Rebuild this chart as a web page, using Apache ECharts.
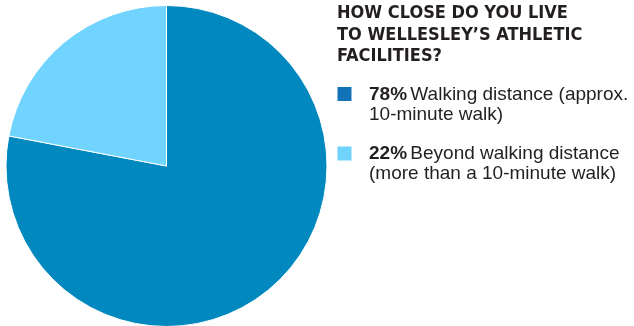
<!DOCTYPE html>
<html>
<head>
<meta charset="utf-8">
<script src="https://cdn.jsdelivr.net/npm/echarts@6/dist/echarts.min.js"></script>
<style>
html,body{margin:0;padding:0;background:#fff;}
#chart{width:634px;height:326px;}
</style>
</head>
<body>
<div id="chart"></div>
<script>
var titleLines = ['HOW CLOSE DO YOU LIVE', 'TO WELLESLEY\u2019S ATHLETIC', 'FACILITIES?'];
var categories = ['Walking distance (approx.\n10-minute walk)', 'Beyond walking distance\n(more than a 10-minute walk)'];
var values = [78, 22];
var pieColors = ['#0088bf', '#70d4ff'];
var legendColors = ['#1272b8', '#6fd3fc'];

var chart = echarts.init(document.getElementById('chart'));
var textColor = '#231f20';

var graphics = [{
  type: 'text',
  left: 337, top: 3,
  style: {
    text: titleLines.join('\n'),
    font: 'bold 18px "DejaVu Sans Condensed", "Liberation Sans", Arial, sans-serif',
    fill: textColor,
    lineHeight: 21.3
  }
}];
var legendTops = [84.5, 143.5];
var squareTops = [87, 146.5];
categories.forEach(function (c, i) {
  graphics.push({
    type: 'rect',
    shape: { x: 337.5, y: squareTops[i], width: 14, height: 14 },
    style: { fill: legendColors[i] }
  });
  var lines = c.split('\n');
  var txt = '{b|' + values[i] + '%} {n|' + lines[0] + '}';
  for (var k = 1; k < lines.length; k++) txt += '\n{n|' + lines[k] + '}';
  graphics.push({
    type: 'text',
    left: 369, top: legendTops[i],
    style: {
      text: txt,
      fill: textColor,
      lineHeight: 20,
      rich: {
        b: { fontFamily: '"Liberation Sans", Arial, sans-serif', fontWeight: 'bold', fontSize: 19, lineHeight: 20, fill: textColor, color: textColor },
        n: { fontFamily: '"Liberation Sans", Arial, sans-serif', fontWeight: 'normal', fontSize: 19, lineHeight: 20, fill: textColor, color: textColor }
      }
    }
  });
});

chart.setOption({
  animation: false,
  backgroundColor: '#ffffff',
  series: [{
    type: 'pie',
    center: [166.5, 166],
    radius: [0, 160.5],
    startAngle: 90,
    clockwise: true,
    label: { show: false },
    labelLine: { show: false },
    emphasis: { disabled: true },
    itemStyle: { borderColor: '#ffffff', borderWidth: 1 },
    data: categories.map(function (c, i) {
      return { name: c, value: values[i], itemStyle: { color: pieColors[i] } };
    })
  }],
  graphic: graphics
});
</script>
</body>
</html>
